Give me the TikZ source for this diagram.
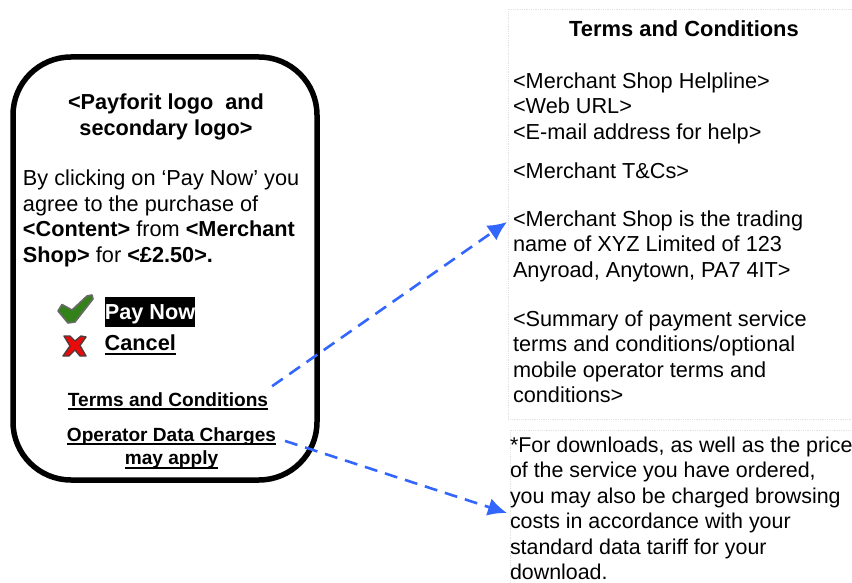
\documentclass[tikz,border=0pt]{standalone}
\usepackage{fontspec}
\setmainfont{Liberation Sans}
\usetikzlibrary{arrows.meta}
\definecolor{linkblue}{RGB}{51,102,255}
\definecolor{panelline}{RGB}{225,225,225}
\definecolor{checkgreen}{RGB}{50,130,25}
\definecolor{checkedge}{RGB}{105,105,105}
\definecolor{crossred}{RGB}{235,10,10}
\definecolor{crossedge}{RGB}{80,60,60}
\tikzset{
  x=1pt,y=-1pt,
  txt/.style={inner sep=0pt,outer sep=0pt,font=\fontsize{21.7}{25.5}\selectfont,align=left,anchor=north west},
  txtc/.style={txt,align=center,anchor=north},
  smallb/.style={inner sep=0pt,outer sep=0pt,font=\fontsize{19.1}{23.5}\selectfont\bfseries,align=center},
  panel/.style={draw=panelline,densely dotted,line width=.8pt,inner sep=0pt,anchor=north west},
  conn/.style={draw=linkblue,line width=2.6pt,dash pattern=on 13pt off 8pt,-{Latex[length=19pt,width=18pt]}},
}
\newcommand{\ul}[1]{\leavevmode\vtop{\setbox0\hbox{#1}\dp0=0pt\box0\kern2.2pt\hrule height 2pt}}
\begin{document}
\begin{tikzpicture}
\useasboundingbox (0,0) rectangle (852,583);
% phone
\node[draw=black,line width=5.5pt,rounded corners=58pt,minimum width=304pt,minimum height=423pt,inner sep=0pt] (phone) at (165,268.5) {};
\node[txtc,font=\fontsize{21.7}{25.5}\selectfont\bfseries] (logo) at (166,94) {<Payforit logo\ \ and\\secondary logo>};
\node[txt] (body) at (23,170) {By clicking on ‘Pay Now’ you\\agree to the purchase of\\\textbf{<Content>} from \textbf{<Merchant}\\\textbf{Shop>} for \textbf{<£2.50>.}};
% buttons
\node[fill=black,inner sep=0pt,minimum width=90pt,minimum height=30pt] (pay) at (150,312) {};
\node[text=white,font=\fontsize{21.7}{24}\selectfont\bfseries,inner sep=0pt] (paytext) at (150,314) {Pay Now};
\node[font=\fontsize{21.7}{24}\selectfont\bfseries,inner sep=0pt,anchor=base west] (cancel) at (104.5,350.5) {\ul{Cancel}};
% check
\fill[checkgreen,draw=checkedge,line width=1.6pt,line join=round] (58,311) -- (62,304.5) -- (72,310) -- (87,296) -- (92,295) -- (93,299) -- (75,322) -- (68,323) -- cycle;
% cross
\fill[crossred,draw=crossedge,line width=1.4pt,line join=round] (64,336) -- (70,336) -- (75,341) -- (81,336) -- (86,337) -- (80,345.5) -- (86,356) -- (80,356) -- (75,350) -- (69,356) -- (63,356) -- (70,346) -- cycle;
% links
\node[smallb,anchor=base] (terms) at (168,406) {\ul{Terms and Conditions}};
\node[smallb,anchor=base] (oper) at (171.5,464.5) {\ul{Operator Data Charges}\\\ul{may apply}};
% panels
\node[panel,minimum width=344pt,minimum height=410pt] (p1) at (508,9) {};
\node[panel,minimum width=342pt,minimum height=153pt] (p2) at (510,430) {};
\node[txtc,font=\fontsize{21.9}{25.5}\selectfont\bfseries] (ptitle) at (684,21) {Terms and Conditions};
\node[txt] (help) at (513,72.7) {<Merchant Shop Helpline>\\<Web URL>\\<E-mail address for help>};
\node[txt] (tcs) at (513,162.7) {<Merchant T\&Cs>};
\node[txt] (trading) at (513,210.7) {<Merchant Shop is the trading\\name of XYZ Limited of 123\\Anyroad, Anytown, PA7 4IT>};
\node[txt] (summary) at (513,310.7) {<Summary of payment service\\terms and conditions/optional\\mobile operator terms and\\conditions>};
\node[txt,font=\fontsize{21.4}{25.5}\selectfont] (down) at (510,436.6) {*For downloads, as well as the price\\of the service you have ordered,\\you may also be charged browsing\\costs in accordance with your\\standard data tariff for your\\download.};
% connectors
\coordinate (t1) at (507,222);
\coordinate (t2) at (507,513);
\path (terms.east) ++(4,-15) coordinate (s1);
\path (oper.east) ++(9,-7) coordinate (s2);
\draw[conn] (s1) -- (t1);
\draw[conn] (s2) -- (t2);
\end{tikzpicture}
\end{document}
